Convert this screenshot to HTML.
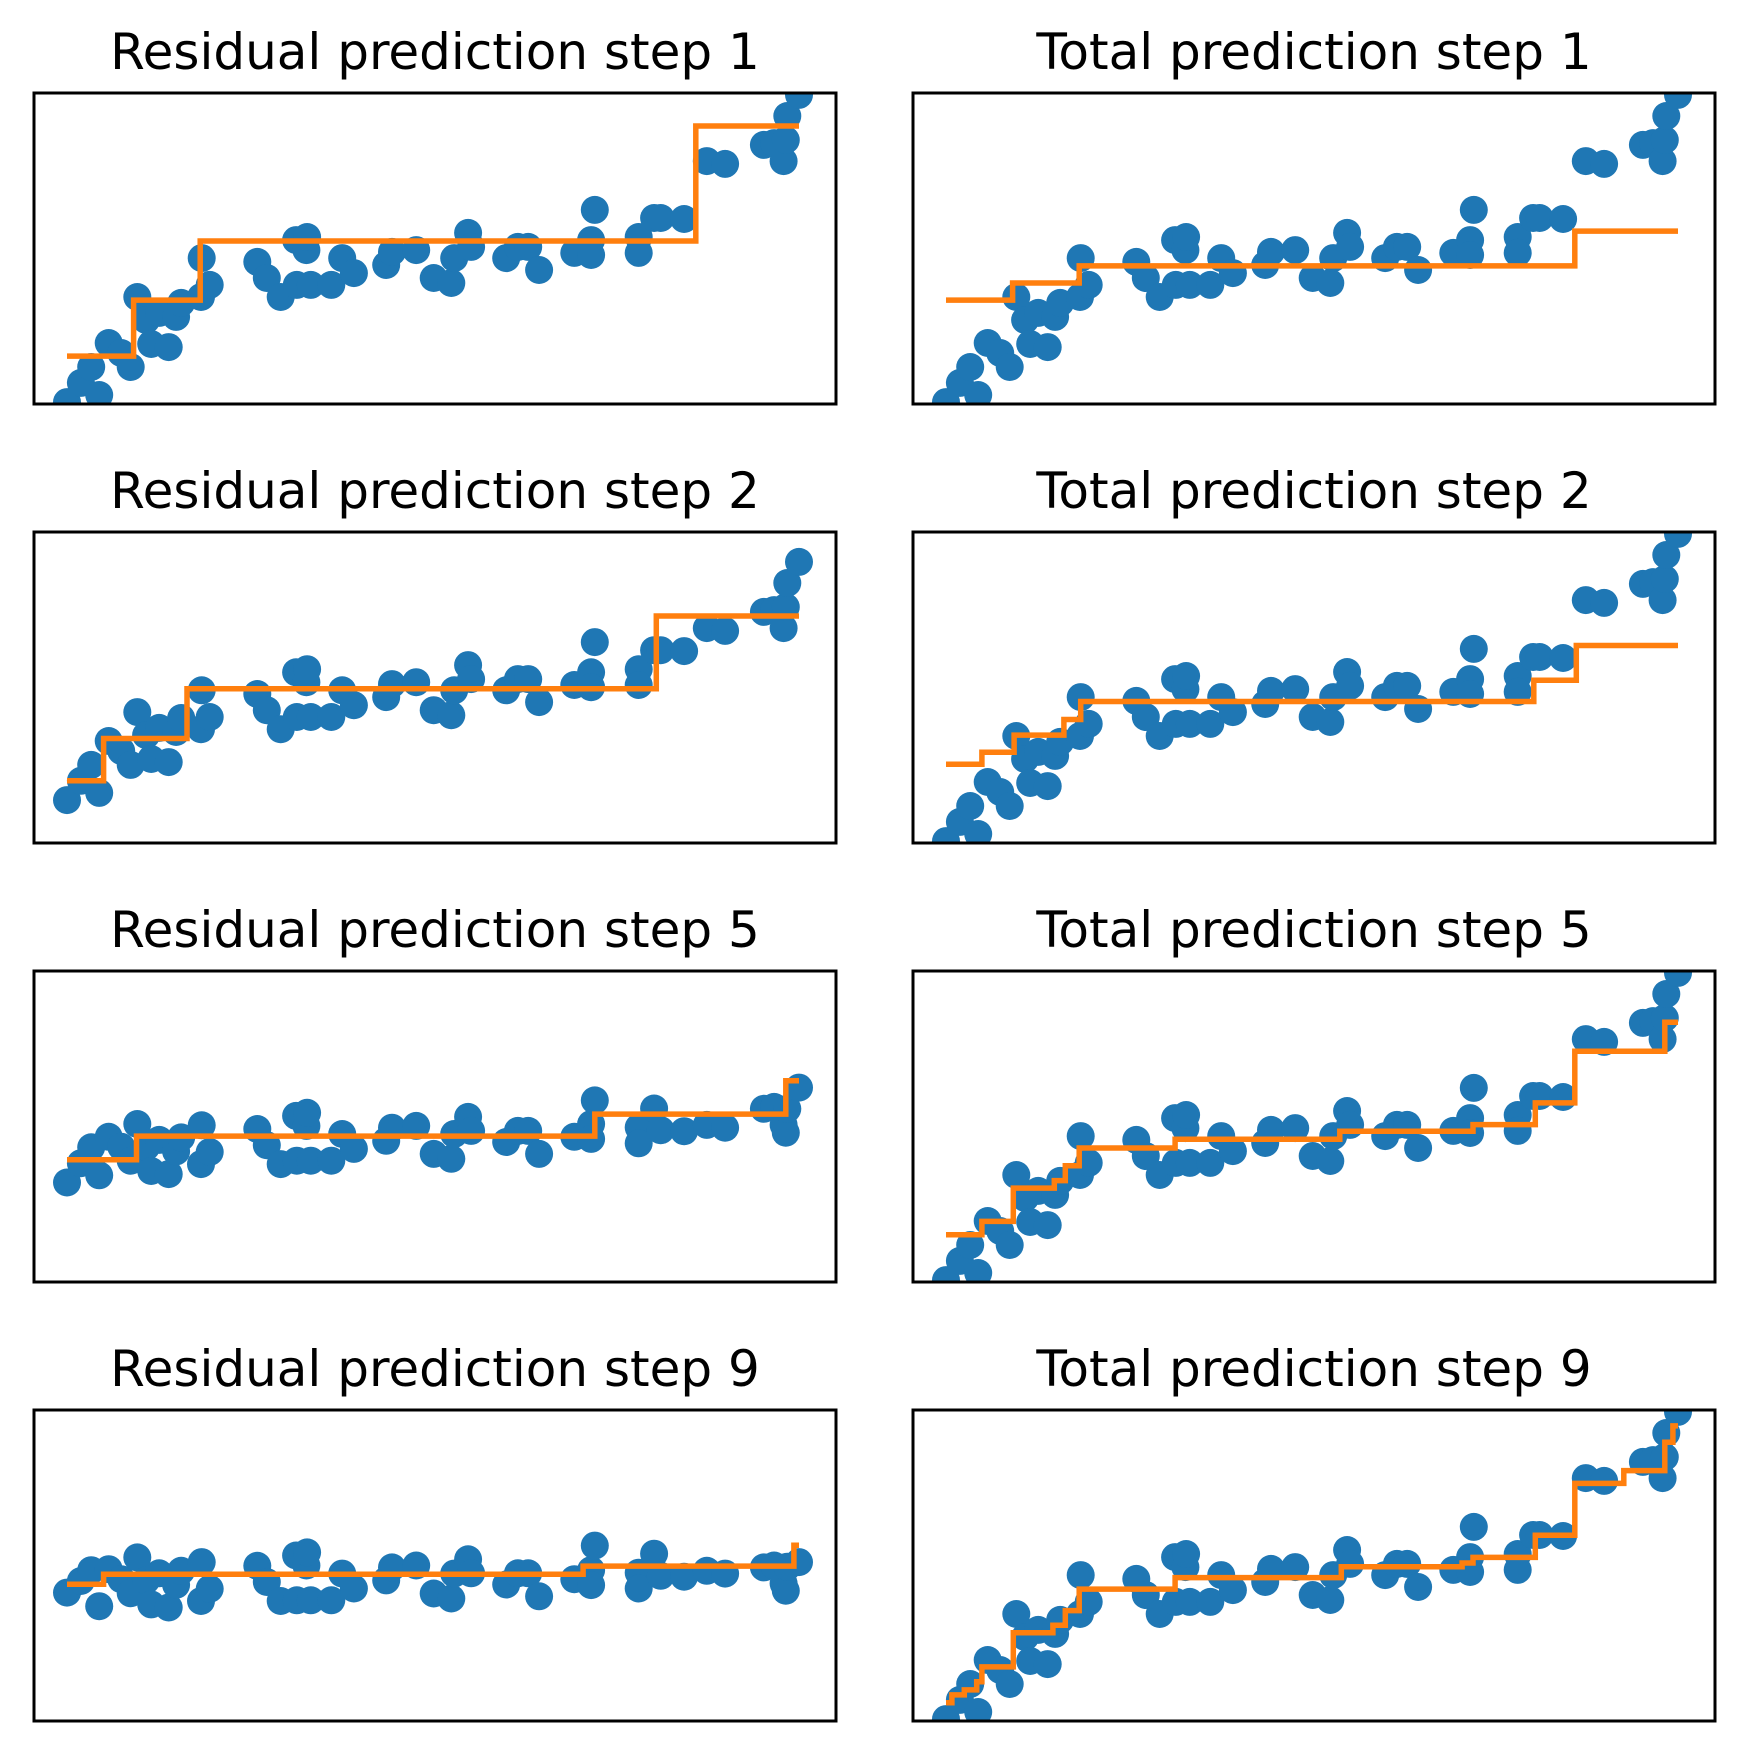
<!DOCTYPE html>
<html>
<head>
<meta charset="utf-8">
<style>
  html,body{margin:0;padding:0;background:#fff;}
  svg{display:block;}
  text{font-family:"DejaVu Sans","Liberation Sans",sans-serif;}
</style>
</head>
<body>
<svg id="fig" width="1747" height="1755" viewBox="0 0 1747 1755" xmlns="http://www.w3.org/2000/svg">
  <rect x="0" y="0" width="1747" height="1755" fill="#ffffff"/>
</svg>
<script>
// ---- data (x in 0..100, y in 0..100) ----
const xs = [0,1.9,3.3,4.4,5.7,7.4,8.7,9.6,10.8,11.5,12.6,13.9,14.9,15.6,18.3,18.4,19.5,26.0,27.3,29.2,31.3,31.4,32.7,32.8,33.3,36.1,37.6,39.2,43.6,44.4,47.7,50.1,52.5,52.9,54.8,55.2,60.0,61.6,63.0,64.5,69.3,71.6,71.6,72.1,78.1,78.1,80.2,81.1,84.3,87.4,89.9,95.2,96.6,97.9,98.2,98.4,100];
const ys = [0.6,6.8,11.9,2.9,19.6,16.4,11.9,34.4,27.0,19.3,29.3,18.3,28.0,32.5,34.4,46.9,38.3,45.7,40.5,34.4,52.7,38.3,49.5,53.7,38.3,38.3,46.9,42.1,44.7,48.9,49.5,40.5,38.9,46.9,55.0,50.5,46.9,50.5,50.5,43.1,48.6,52.7,47.9,62.4,53.7,48.6,59.8,59.8,59.5,78.1,77.2,83.3,83.9,78.1,84.9,92.6,99.4];

const steps = [1, 2, 5, 9];

// total prediction step functions (breaks in x, levels in y)
const total1Breaks = [9.1, 18.2, 85.9];
const total1Levels = [33.4, 38.9, 44.4, 55.6];
const total2Breaks = [4.9, 9.3, 16.1, 18.4, 80.3, 86.1];
const total2Levels = [25.3, 29.2, 34.7, 39.7, 45.5, 52.3, 63.5];
const total5Breaks = [4.9, 9.2, 14.8, 16.3, 18.2, 31.3, 53.8, 72.0, 80.5, 85.9, 98.2];
const total5Levels = [15.2, 19.5, 30.2, 32.6, 37.4, 43.1, 45.9, 48.5, 50.6, 57.6, 74.2, 83.5];
const total9Breaks = [0.8, 2.5, 4.2, 4.9, 9.2, 14.6, 16.3, 18.2, 31.3, 54.0, 70.5, 72.0, 80.5, 85.9, 92.6, 98.2, 99.3];
const total9Levels = [5.9, 8.4, 10.0, 12.6, 17.4, 28.4, 30.8, 35.5, 42.4, 46.1, 49.6, 50.8, 52.6, 59.7, 76.4, 80.5, 89.6, 94.9];

// residual tree fits (levels in residual units)
const tree1Breaks = [9.1, 18.2, 85.9];
const tree1Levels = [-31.2, -13.2, 5.8, 42.8];
const tree2Breaks = [5.0, 16.4, 80.5];
const tree2Levels = [-26.6, -13.0, 3.0, 26.4];
const tree5Breaks = [9.5, 72.1, 98.2];
const tree5Levels = [-7.3, 0.3, 7.4, 18.1];
const tree9Breaks = [5.0, 70.5, 99.3];
const tree9Levels = [-2.6, 0.6, 3.2, 9.9];

// previous total prediction used for residuals of each row
const initialBreaks = [];
const initialLevels = [46.6];

const totalYDomain = [0, 100];
const residYDomain = [-46.6, 53.4];

// ---- layout ----
const NS = "http://www.w3.org/2000/svg";
const svg = document.getElementById('fig');
const rowTops = [93, 532, 971, 1410];
const panelH = 311;
const colLeft = [34, 913];
const panelW = 802;
const xPad = 33, xUnit = 7.32;

function mk(tag, attrs, parent){
  const e = document.createElementNS(NS, tag);
  for (const k in attrs) e.setAttribute(k, attrs[k]);
  (parent || svg).appendChild(e);
  return e;
}
function evalStep(breaks, levels, x){
  let i = 0;
  while (i < breaks.length && x >= breaks[i]) i++;
  return levels[i];
}
function xScale(left, x){ return left + xPad + x * xUnit; }
function yScale(top, dom, v){ return top + panelH - (v - dom[0]) / (dom[1] - dom[0]) * panelH; }

function stairPath(left, top, dom, breaks, levels){
  let d = 'M' + xScale(left, 0).toFixed(1) + ',' + yScale(top, dom, levels[0]).toFixed(1);
  for (let i = 0; i < breaks.length; i++){
    d += ' H' + xScale(left, breaks[i]).toFixed(1);
    d += ' V' + yScale(top, dom, levels[i + 1]).toFixed(1);
  }
  d += ' H' + xScale(left, 100).toFixed(1);
  return d;
}

const totals = [[total1Breaks,total1Levels],[total2Breaks,total2Levels],[total5Breaks,total5Levels],[total9Breaks,total9Levels]];
const trees = [[tree1Breaks,tree1Levels],[tree2Breaks,tree2Levels],[tree5Breaks,tree5Levels],[tree9Breaks,tree9Levels]];
const prevs = [[initialBreaks,initialLevels],[total1Breaks,total1Levels],[total5Breaks,total5Levels],[total9Breaks,total9Levels]];

function drawPanel(col, row, title, yvals, dom, stair, kind){
  const left = colLeft[col], top = rowTops[row];
  const g = mk('g', {});
  
  
  const cid = 'clip-' + col + '-' + row;
  const cp = mk('clipPath', {id: cid}, g);
  mk('rect', {x: left, y: top, width: panelW, height: panelH}, cp);

  const t = mk('text', {x: left + panelW / 2, y: top - 24, 'text-anchor': 'middle', 'font-size': '50', fill: '#000'}, g);
  t.textContent = title;
  
  

  const pts = mk('g', {'clip-path': 'url(#' + cid + ')'}, g);
  
  
  for (let i = 0; i < xs.length; i++){
    const c = mk('circle', {cx: xScale(left, xs[i]).toFixed(1), cy: yScale(top, dom, yvals[i]).toFixed(1), r: 14, fill: '#1f77b4'}, pts);
    
    
  }
  const p = mk('path', {d: stairPath(left, top, dom, stair[0], stair[1]), fill: 'none', stroke: '#ff7f0e', 'stroke-width': 5.5, 'stroke-linejoin': 'miter', 'clip-path': 'url(#' + cid + ')'}, g);
  
  

  const f = mk('rect', {x: left, y: top, width: panelW, height: panelH, fill: 'none', stroke: '#000', 'stroke-width': 3}, g);
  
  
}

for (let r = 0; r < 4; r++){
  const prev = prevs[r];
  const resid = xs.map((x, i) => ys[i] - evalStep(prev[0], prev[1], x));
  drawPanel(0, r, 'Residual prediction step ' + steps[r], resid, residYDomain, trees[r], 'residual');
  drawPanel(1, r, 'Total prediction step ' + steps[r], ys, totalYDomain, totals[r], 'total');
}
</script>
</body>
</html>
